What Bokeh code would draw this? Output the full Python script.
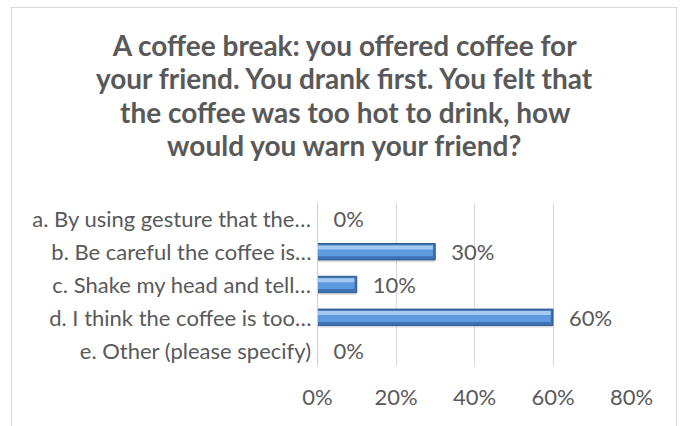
from bokeh.plotting import figure
from bokeh.layouts import column
from bokeh.models import (ColumnDataSource, FactorRange, Range1d, FixedTicker,
                          NumeralTickFormatter, LabelSet)
from bokeh.core.properties import value
from bokeh.transform import dodge
from bokeh.embed import file_html
from bokeh.resources import INLINE

# ---- data ----
categories = [
    "a. By using gesture that the\u2026",
    "b. Be careful the coffee is\u2026",
    "c. Shake my head and tell\u2026",
    "d. I think the coffee is too\u2026",
    "e. Other (please specify)",
]
shares = [0.0, 0.30, 0.10, 0.60, 0.0]
value_labels = ["0%", "30%", "10%", "60%", "0%"]
x_ticks = [0.0, 0.2, 0.4, 0.6, 0.8]
title_lines = [
    "A coffee break: you offered coffee for",
    "your friend. You drank first. You felt that",
    "the coffee was too hot to drink, how",
    "would you warn your friend?",
]

TEXT = "#595959"
FONT = "Lato"
FS = "22px"
BORDER = "1px solid #d9d9d9"

W = 666
TH = 195          # title strip height
PH = 225          # chart strip height

# ---- title strip ----
tf = figure(width=W, height=TH, output_backend="svg", toolbar_location=None,
            x_range=Range1d(0, W), y_range=Range1d(TH, 0),
            x_axis_type=None, y_axis_type=None,
            min_border=0, min_border_left=0, min_border_right=0,
            min_border_top=0, min_border_bottom=0)
tf.outline_line_color = None
tf.grid.visible = False
tf.styles = {"border-top": BORDER, "border-left": BORDER, "border-right": BORDER}
tf.margin = (7, 0, 0, 11)
if hasattr(tf, "frame_align"):
    tf.frame_align = False
tsrc = ColumnDataSource(dict(
    x=[333] * len(title_lines),
    y=[36 + 33.5 * i for i in range(len(title_lines))],
    t=title_lines,
))
tf.text(x="x", y="y", text="t", source=tsrc, text_align="center",
        text_baseline="middle", text_font=value(FONT), text_font_style="bold",
        text_font_size=value("28px"), text_color=TEXT)

# ---- chart strip ----
src = ColumnDataSource(dict(
    cat=categories,
    val=shares,
    inner=[max(v - 0.006, 0) for v in shares],
    lab=value_labels,
))

p = figure(width=W, height=PH, output_backend="svg", toolbar_location=None,
           y_range=FactorRange(factors=list(reversed(categories)), range_padding=0),
           x_range=Range1d(0, 0.8),
           min_border_left=305, min_border_right=47,
           min_border_top=0, min_border_bottom=61)
p.outline_line_color = None
p.background_fill_color = "white"
p.border_fill_color = "white"
p.styles = {"border-left": BORDER, "border-right": BORDER, "border-bottom": BORDER}
p.margin = (0, 0, 0, 11)
if hasattr(p, "frame_align"):
    p.frame_align = False

# bars: shadow, dark base, mid body, highlight
p.hbar(y=dodge("cat", -0.07, range=p.y_range), left=0, right="val", height=0.5,
       source=src, fill_color="#9a9a9a", fill_alpha=0.3, line_color=None)
p.hbar(y="cat", left=0, right="val", height=0.5, source=src,
       fill_color="#3f72b4", line_color="#2f5a8e", line_width=1)
p.hbar(y=dodge("cat", 0.03, range=p.y_range), left=0, right="inner", height=0.34,
       source=src, fill_color="#5e9ade", line_color=None)
p.hbar(y=dodge("cat", 0.13, range=p.y_range), left=0, right="inner", height=0.12,
       source=src, fill_color="#a6c9f1", line_color=None)

labels = LabelSet(x="val", y="cat", text="lab", source=src, x_offset=16,
                  text_align="left", text_baseline="middle",
                  text_font=value(FONT), text_font_size=value(FS),
                  text_color=value(TEXT))
p.add_layout(labels)

# axes
p.xaxis.ticker = FixedTicker(ticks=x_ticks)
p.xaxis.formatter = NumeralTickFormatter(format="0%")
p.xaxis.axis_line_color = None
p.xaxis.major_tick_line_color = None
p.xaxis.minor_tick_line_color = None
p.xaxis.major_label_standoff = 10
p.xaxis.major_label_text_font = FONT
p.xaxis.major_label_text_font_size = FS
p.xaxis.major_label_text_color = TEXT

p.yaxis.axis_line_color = "#d0d0d0"
p.yaxis.major_tick_line_color = None
p.yaxis.minor_tick_line_color = None
p.yaxis.major_label_standoff = 0
p.yaxis.major_label_text_font = FONT
p.yaxis.major_label_text_font_size = FS
p.yaxis.major_label_text_color = TEXT

p.xgrid.grid_line_color = "#d9d9d9"
p.xgrid.ticker = FixedTicker(ticks=x_ticks)
p.ygrid.grid_line_color = None

layout = column(tf, p, spacing=0)
open("out.html", "w").write(file_html(layout, INLINE))
